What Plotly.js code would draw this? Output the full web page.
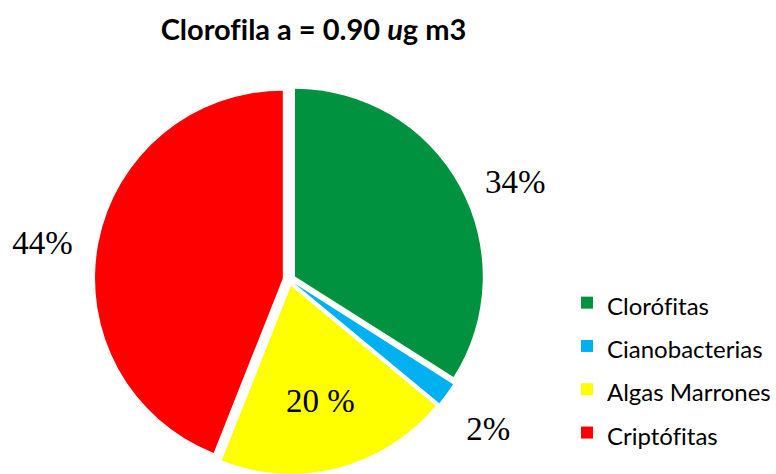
<!DOCTYPE html>
<html>
<head>
<meta charset="utf-8">
<script src="https://cdn.plot.ly/plotly-3.0.1.min.js"></script>
<style>html,body{margin:0;padding:0;background:#fff;}#chart{width:776px;height:474px;}
#chart text{font-variant-ligatures:none;font-feature-settings:"liga" 0;}</style>
</head>
<body>
<div id="chart"></div>
<script>
const categories = ['Clorófitas', 'Cianobacterias', 'Algas Marrones', 'Criptófitas'];
const values = [34, 2, 20, 44];
const sliceLabels = ['&nbsp;&nbsp;34%', '&nbsp;<br>2%', '20 %', '44%&nbsp;&nbsp;'];
const colors = ['#00923F', '#00B0F0', '#FFFF00', '#FF0000'];
const labelPositions = ['outside', 'outside', 'inside', 'outside'];

const serif = 'Liberation Serif, Times New Roman, serif';
const trace = {
  type: 'pie',
  labels: categories.map(c => '<span style="font-size:24px">' + c + '</span>'),
  values: values,
  text: sliceLabels,
  textinfo: 'text',
  textposition: labelPositions,
  insidetextorientation: 'horizontal',
  textfont: {family: serif, size: 33, color: '#000'},
  outsidetextfont: {family: serif, size: 33, color: '#000'},
  insidetextfont: {family: serif, size: 33, color: '#000'},
  marker: {colors: colors, line: {width: 0}},
  sort: false,
  direction: 'clockwise',
  rotation: 0,
  pull: [0.035, 0.035, 0.035, 0.035],
  domain: {x: [95/776, 485/776], y: [0, 0.82]},
  hoverinfo: 'label+percent'
};

const layout = {
  width: 776, height: 474,
  margin: {l: 0, r: 0, t: 0, b: 0},
  paper_bgcolor: '#fff',
  title: {
    text: 'Clorofila a = 0.90 <i>u</i>g m3',
    font: {family: 'Lato, Calibri, sans-serif', size: 29, color: '#000', weight: 'bold'},
    x: 0.405, xanchor: 'center', xref: 'paper',
    y: 1 - 30/474, yanchor: 'middle', yref: 'container'
  },
  showlegend: true,
  legend: {
    x: 0.733, xanchor: 'left', y: 1 - 276/474, yanchor: 'top',
    font: {family: 'Lato, Calibri, sans-serif', size: 31, color: '#000'},
    bgcolor: 'rgba(0,0,0,0)', traceorder: 'normal'
  }
};

Plotly.newPlot('chart', [trace], layout, {displayModeBar: false, staticPlot: true});
</script>
</body>
</html>
